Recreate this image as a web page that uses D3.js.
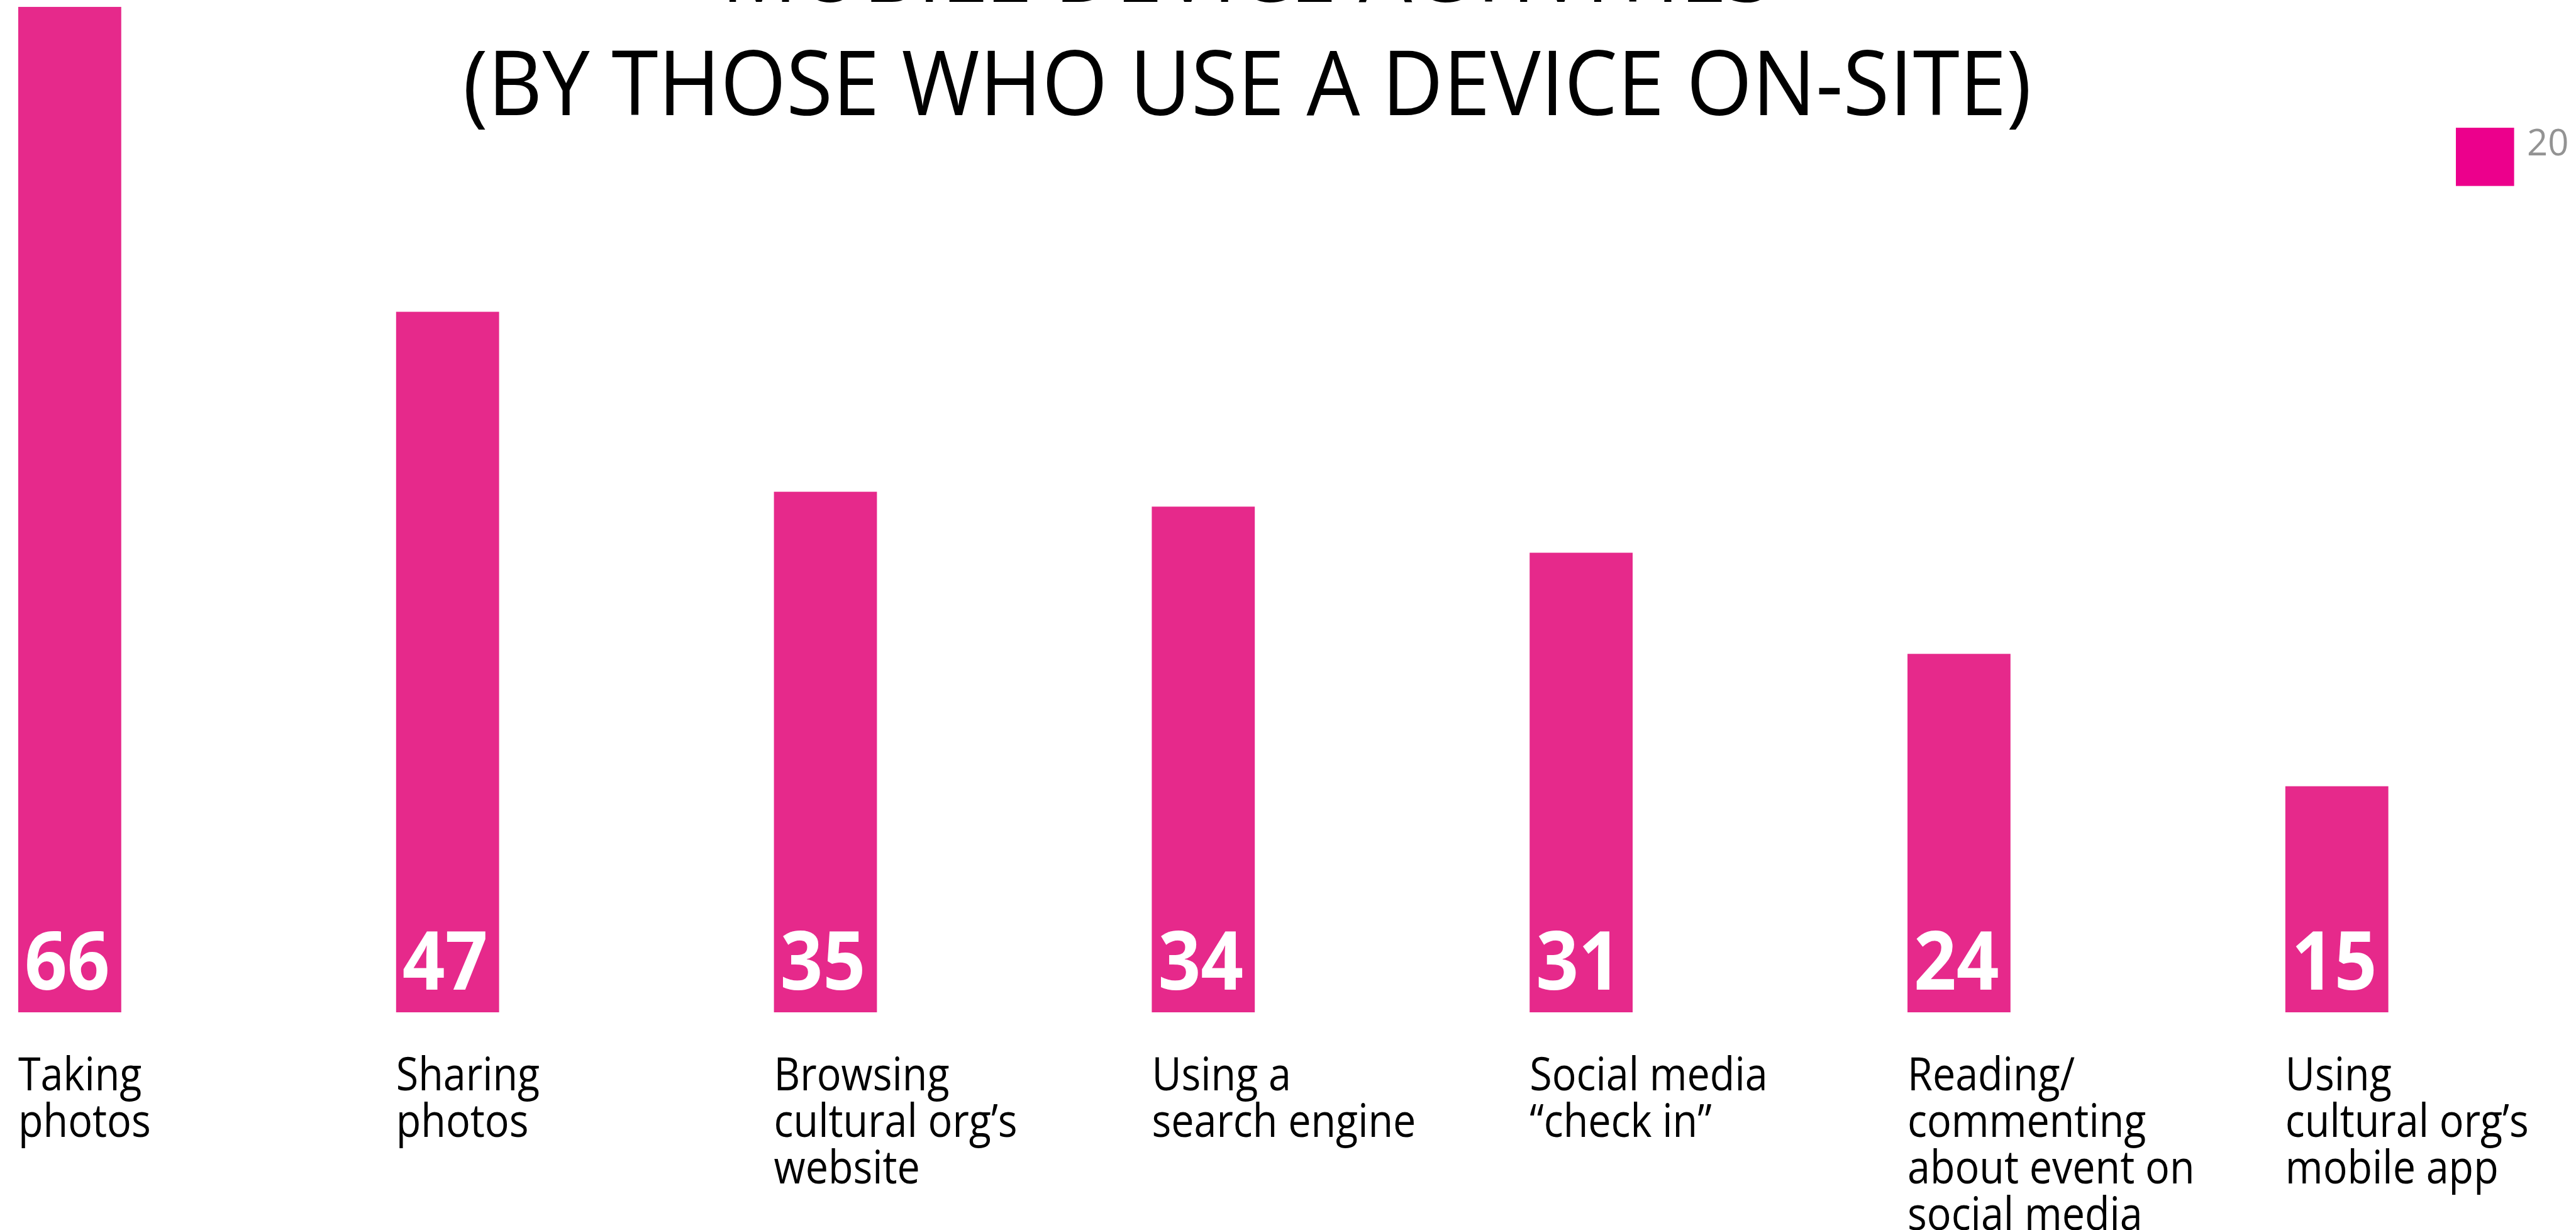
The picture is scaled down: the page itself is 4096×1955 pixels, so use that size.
<!DOCTYPE html>
<html>
<head>
<meta charset="utf-8">
<script src="https://cdn.jsdelivr.net/npm/d3@7"></script>
<style>
  html, body { margin: 0; padding: 0; background: #fff; overflow: hidden; }
  svg { display: block; }
</style>
</head>
<body>
<div id="chart"></div>
<script>
// chart data
var categories = ["Taking photos", "Sharing photos", "Browsing cultural org’s website",
  "Using a search engine", "Social media “check in”",
  "Reading/commenting about event on social media", "Using cultural org’s mobile app"];
var labelLines = [
  ["Taking", "photos"],
  ["Sharing", "photos"],
  ["Browsing", "cultural org’s", "website"],
  ["Using a", "search engine"],
  ["Social media", "“check in”"],
  ["Reading/", "commenting", "about event on", "social media"],
  ["Using", "cultural org’s", "mobile app"]
];
// bar lengths, printed values as shown on the bars
var barValues = [67.6, 47.1, 35.0, 34.0, 30.9, 24.1, 15.2];
var valueLabels = ["66", "47", "35", "34", "31", "24", "15"];
var titleLines = ["MOBILE DEVICE ACTIVITIES", "(BY THOSE WHO USE A DEVICE ON-SITE)"];
var legendLabels = ["20"];

var svgWidth = 4096;
var svgHeight = 1955;

var svg = d3.select("#chart")
  .append("svg")
  .attr("width", svgWidth)
  .attr("height", svgHeight);

// scales
var xScale = d3.scaleBand()
  .domain(categories)
  .range([29, 3797.6])
  .paddingInner(0.7274)
  .paddingOuter(0);

var yScale = d3.scaleLinear()
  .domain([0, 68])
  .range([1609, 1.5]);

var barColor = "#e6298b";

// bars
svg.append("g").selectAll("rect")
  .data(barValues)
  .enter()
  .append("rect")
  .attr("x", (d, i) => xScale(categories[i]))
  .attr("y", d => yScale(d))
  .attr("width", xScale.bandwidth())
  .attr("height", d => yScale(0) - yScale(d))
  .attr("fill", barColor);

// values inside the bars
svg.append("g").selectAll("text")
  .data(valueLabels)
  .enter()
  .append("text")
  .attr("transform", (d, i) => `translate(${xScale(categories[i]) + 10}, ${yScale(0) - 36}) scale(0.92, 1)`)
  .attr("font-family", "'Open Sans', sans-serif")
  .attr("font-weight", 700)
  .attr("font-size", 129)
  .attr("fill", "#fff")
  .text(d => d);

// category labels under the bars
var catGroup = svg.append("g").selectAll("g")
  .data(labelLines)
  .enter()
  .append("g")
  .attr("transform", (d, i) => `translate(${xScale(categories[i])}, 1732.6) scale(0.89, 1)`);

catGroup.selectAll("text")
  .data(d => d)
  .enter()
  .append("text")
  .attr("x", 0)
  .attr("y", (d, j) => j * 74)
  .attr("font-family", "'Open Sans', sans-serif")
  .attr("font-size", 72.6)
  .attr("fill", "#000")
  .text(d => d);

// title, the first line is cut off by the top edge
svg.append("g").selectAll("text")
  .data(titleLines)
  .enter()
  .append("text")
  .attr("transform", (d, i) => `translate(1983, ${i === 0 ? 3 : 183}) scale(0.94, 1)`)
  .attr("text-anchor", "middle")
  .attr("font-family", "'Open Sans', sans-serif")
  .attr("font-size", 143)
  .attr("fill", "#000")
  .text(d => d);

// legend
var legend = svg.append("g").selectAll("g")
  .data(legendLabels)
  .enter()
  .append("g")
  .attr("transform", "translate(3905, 203)");

legend.append("rect")
  .attr("width", 92.6)
  .attr("height", 92.6)
  .attr("fill", "#ec008c");

legend.append("text")
  .attr("x", 113)
  .attr("y", 44)
  .attr("font-family", "'Open Sans', sans-serif")
  .attr("font-size", 58)
  .attr("fill", "#939393")
  .text(d => d);
</script>
</body>
</html>
